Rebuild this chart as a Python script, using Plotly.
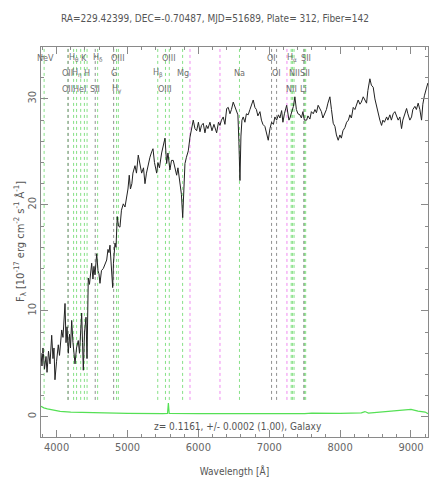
import plotly.graph_objects as go

# ---------------- data ----------------
wave = [3780, 3794, 3808, 3829, 3851, 3865, 3886, 3907, 3931, 3949, 3963, 3977, 3999, 4024, 4041,
        4072, 4090, 4104, 4119, 4133, 4147, 4165, 4182, 4196, 4213, 4231, 4245, 4260, 4281, 4306,
        4323, 4337, 4354, 4366, 4377, 4394, 4415, 4429, 4447, 4464, 4478, 4495, 4513, 4527, 4542,
        4556, 4566, 4584, 4598, 4612, 4633, 4659, 4683, 4707, 4725, 4739, 4753, 4767, 4781, 4791,
        4802, 4824, 4838, 4856, 4873, 4894, 4915, 4941, 4965, 4989, 5007, 5025, 5042, 5062, 5077,
        5106, 5127, 5152, 5176, 5200, 5226, 5247, 5268, 5293, 5317, 5341, 5360, 5381, 5412, 5430,
        5451, 5482, 5500, 5529, 5553, 5571, 5599, 5621, 5646, 5670, 5694, 5712, 5740, 5761, 5779,
        5794, 5811, 5832, 5858, 5882, 5903, 5928, 5952, 5976, 6001, 6023, 6044, 6069, 6093, 6114,
        6135, 6164, 6192, 6220, 6258, 6284, 6305, 6326, 6351, 6375, 6400, 6422, 6446, 6467, 6492,
        6516, 6540, 6558, 6572, 6587, 6601, 6615, 6633, 6657, 6678, 6703, 6728, 6749, 6774, 6798,
        6819, 6840, 6869, 6890, 6911, 6939, 6960, 6986, 7010, 7034, 7059, 7080, 7104, 7130, 7151,
        7175, 7193, 7214, 7246, 7264, 7278, 7292, 7306, 7320, 7341, 7362, 7383, 7405, 7433, 7454,
        7475, 7496, 7528, 7546, 7574, 7595, 7621, 7645, 7666, 7690, 7715, 7736, 7757, 7785, 7807,
        7828, 7856, 7878, 7903, 7927, 7948, 7973, 7997, 8018, 8040, 8068, 8092, 8117, 8138, 8159,
        8185, 8209, 8230, 8255, 8279, 8300, 8326, 8350, 8373, 8392, 8420, 8441, 8467, 8491, 8515,
        8540, 8561, 8585, 8604, 8625, 8656, 8674, 8702, 8723, 8749, 8773, 8794, 8819, 8843, 8867,
        8885, 8914, 8938, 8956, 8984, 9008, 9026, 9055, 9076, 9101, 9125, 9149, 9167, 9189, 9220,
        9238]
flux = [6.0, 4.8, 6.5, 4.5, 5.7, 4.2, 6.2, 5.0, 7.7, 5.5, 6.5, 3.5, 5.2, 6.8, 5.8,
        8.2, 7.5, 9.0, 10.7, 7.0, 8.5, 6.0, 7.8, 6.5, 9.1, 7.0, 6.0, 5.0, 6.5, 7.2,
        6.0, 8.5, 9.8, 7.0, 4.4, 8.0, 9.4, 5.5, 13.1, 12.5, 13.6, 14.5, 13.0, 14.2, 13.4,
        14.6, 15.4, 13.8, 13.5, 12.6, 13.8, 14.0, 14.5, 14.8, 15.8, 15.5, 16.2, 15.0, 13.5, 12.2,
        14.5, 16.4, 16.0, 18.9, 18.0, 17.9, 19.5, 20.1, 19.8, 20.7, 21.5, 22.8, 21.5, 22.0, 23.0,
        23.7, 23.0, 24.7, 23.8, 23.0, 23.5, 22.0, 23.0, 23.9, 24.5, 25.0, 25.3, 24.0, 23.0, 24.0,
        23.5, 24.9, 25.5, 26.3, 23.9, 24.9, 23.3, 24.2, 24.2, 23.5, 22.8, 23.5, 22.0, 21.0, 18.8,
        21.5, 23.9, 24.5, 25.1, 26.4, 27.0, 28.0, 27.2, 27.0, 27.8, 26.9, 27.5, 27.7, 26.8, 27.5,
        27.2, 27.8, 27.0, 27.6, 26.8, 27.8, 27.5, 28.0, 28.3, 27.6, 29.1, 29.2, 28.6, 29.0, 29.7,
        29.3, 28.9, 28.5, 26.0, 22.3, 26.5, 28.0, 28.3, 27.8, 28.6, 28.5, 29.0, 29.5, 29.9, 29.2,
        29.0, 28.4, 28.8, 28.0, 27.6, 27.4, 26.8, 26.1, 27.2, 27.8, 27.6, 28.3, 28.0, 28.5, 28.2,
        28.9, 27.8, 28.6, 29.4, 28.8, 28.0, 28.2, 28.5, 29.0, 29.3, 30.2, 29.0, 28.6, 28.5, 28.2,
        28.8, 28.0, 28.0, 28.4, 28.1, 28.8, 28.6, 29.0, 28.7, 29.4, 29.0, 28.8, 28.2, 28.6, 29.0,
        29.6, 30.2, 29.0, 27.7, 27.4, 26.6, 26.1, 26.6, 26.3, 27.0, 27.3, 27.8, 28.0, 28.5, 28.2,
        29.2, 29.0, 29.5, 29.9, 29.5, 29.7, 30.2, 29.8, 29.6, 30.8, 31.9, 31.3, 31.1, 30.0, 29.2,
        28.5, 28.0, 27.5, 28.0, 27.8, 28.3, 28.0, 28.5, 28.0, 28.6, 28.8, 28.4, 28.0, 28.3, 27.2,
        28.0, 28.5, 29.1, 28.6, 28.0, 28.3, 29.0, 29.3, 29.0, 29.6, 29.0, 28.0, 29.5, 30.3, 31.1,
        31.5]

err_wave = [3780, 3820, 3870, 3950, 4050, 4200, 4400, 4700, 5000, 5500, 5565, 5577, 5589, 6000,
            6500, 7000, 7500, 7600, 8000, 8300, 8350, 8400, 8600, 8800, 8900, 9000, 9100, 9200, 9240]
err_flux = [1.0, 0.85, 0.75, 0.62, 0.52, 0.45, 0.4, 0.35, 0.32, 0.3, 0.32, 1.3, 0.32, 0.3,
            0.28, 0.28, 0.3, 0.36, 0.32, 0.38, 0.5, 0.36, 0.45, 0.55, 0.6, 0.7, 0.55, 0.45, 0.3]

# emission/absorption line markers (observed wavelength), colour group
green_lines = [3824, 4160, 4240, 4282, 4340, 4392, 4430, 4579, 4846, 4871, 5427, 5536, 5590,
               5778, 6580, 7310, 7327, 7350, 7498, 7514]
grey_lines = [4163, 4545, 4805, 7033, 7104, 7487]
sky_lines = [5882, 6305, 7250]

label_text = ["NeV", "H<sub>θ</sub>", "K", "H<sub>δ</sub>", "OIII", "OIII", "OI", "H<sub>α</sub>", "SII",
              "OII", "H<sub>η</sub>", "H", "G", "H<sub>β</sub>", "Mg", "Na", "OI", "NII", "SII",
              "OII", "HeI", "SII", "H<sub>γ</sub>", "OIII", "NII", "Li"]
label_wave = [3840, 4240, 4392, 4579, 4871, 5590, 7033, 7327, 7520,
              4160, 4282, 4430, 4805, 5427, 5778, 6580, 7104, 7350, 7510,
              4160, 4330, 4545, 4846, 5536, 7310, 7487]
label_row = [1, 1, 1, 1, 1, 1, 1, 1, 1,
             2, 2, 2, 2, 2, 2, 2, 2, 2, 2,
             3, 3, 3, 3, 3, 3, 3]
row_y = {1: 33.9, 2: 32.4, 3: 30.9}

title_text = "RA=229.42399, DEC=-0.70487, MJD=51689, Plate= 312, Fiber=142"
z_text = "z= 0.1161, +/- 0.0002 (1.00), Galaxy"
y_title = "F<sub>λ</sub> [10<sup>-17</sup> erg cm<sup>-2</sup> s<sup>-1</sup> Å<sup>-1</sup>]"

XR = [3780, 9240]
YR = [-1.9, 34.9]
LINE_BOTTOM = 1.6

FONT = "Liberation Sans Narrow, DejaVu Sans Condensed, Arial Narrow, sans-serif"
GREY = "#707070"


def vlines(xs):
    xx, yy = [], []
    for v in xs:
        xx += [v, v, None]
        yy += [LINE_BOTTOM, YR[1], None]
    return xx, yy


fig = go.Figure()
for xs, col in [(green_lines, "#86e086"), (grey_lines, "#909090"), (sky_lines, "#f08cf0")]:
    lx, ly = vlines(xs)
    fig.add_trace(go.Scatter(x=lx, y=ly, mode="lines", line=dict(color=col, width=1, dash="dot"),
                             hoverinfo="skip", showlegend=False))

fig.add_trace(go.Scatter(x=err_wave, y=err_flux, mode="lines",
                         line=dict(color="#55e055", width=1.2), showlegend=False))
fig.add_trace(go.Scatter(x=wave, y=flux, mode="lines",
                         line=dict(color="#222222", width=1), showlegend=False))

for t, w, r in zip(label_text, label_wave, label_row):
    fig.add_annotation(x=w, y=row_y[r], text=t, showarrow=False, xref="x", yref="y",
                       font=dict(family=FONT, size=9, color=GREY))

fig.add_annotation(x=6560, y=-0.9, text=z_text, showarrow=False, xref="x", yref="y",
                   font=dict(family=FONT, size=10, color="#555555"))

fig.add_annotation(x=0, y=0.5, xref="paper", yref="paper", xshift=-21, text=y_title,
                   textangle=-90, showarrow=False, xanchor="center", yanchor="middle",
                   font=dict(family=FONT, size=11, color="#555555"))

axis_common = dict(showline=True, linecolor="#8a8a8a", linewidth=1, mirror="ticks",
                   ticks="inside", tickcolor="#8a8a8a", showgrid=False, zeroline=False,
                   automargin=False,
                   tickfont=dict(family=FONT, size=11, color="#666666"))

fig.update_xaxes(range=XR, tick0=4000, dtick=1000, ticklen=7,
                 minor=dict(ticks="inside", dtick=200, ticklen=3, tickcolor="#8a8a8a"),
                 title=dict(text="Wavelength [Å]", font=dict(family=FONT, size=10, color="#555555"),
                            standoff=14),
                 **axis_common)
fig.update_yaxes(range=YR, tick0=0, dtick=10, ticklen=7, tickangle=-90,
                 minor=dict(ticks="inside", dtick=2, ticklen=3, tickcolor="#8a8a8a"),
                 **axis_common)

fig.update_layout(width=430, height=480, margin=dict(l=41, r=2, t=47, b=43, autoexpand=False),
                  plot_bgcolor="white", paper_bgcolor="white", showlegend=False,
                  title=dict(text=title_text, x=0.5, xanchor="center", y=1 - 18 / 480,
                             yanchor="middle", yref="container",
                             font=dict(family=FONT, size=10, color="#555555")))

fig.write_html("out.html", config={"displayModeBar": False},
               post_script="document.body.style.margin='0';document.body.style.padding='0';")
